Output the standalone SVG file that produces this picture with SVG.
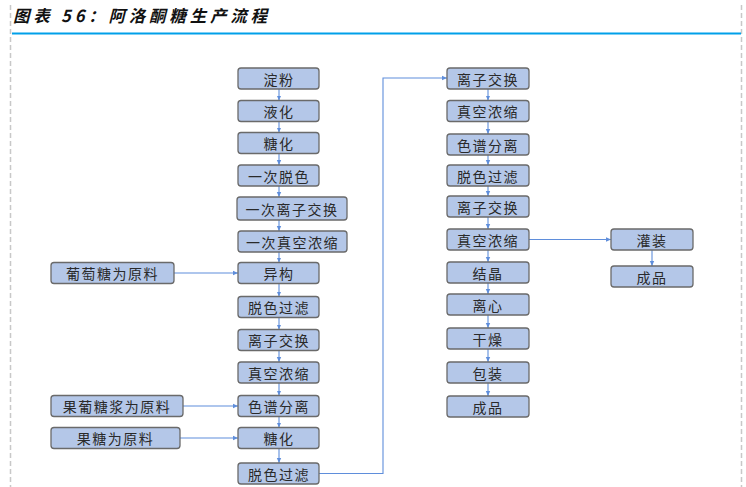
<svg xmlns="http://www.w3.org/2000/svg" width="746" height="487" viewBox="0 0 746 487">
<style>
.box{fill:#b4c7e8;stroke:#6a6a6a;stroke-width:1.3}
.lbl{font-family:"Noto Sans CJK SC","Noto Sans",sans-serif;font-size:14px;fill:#2a2a2a;text-anchor:middle;dominant-baseline:central;letter-spacing:1.5px}
.con{fill:none;stroke:#5f8edb;stroke-width:1.1}
.frame{stroke:#c8c8c8;stroke-width:1.5;stroke-dasharray:5 3}
</style>
<defs>
<marker id="arr" markerUnits="userSpaceOnUse" markerWidth="6" markerHeight="6" refX="5" refY="3" orient="auto">
<path d="M0,0.8 L5,3 L0,5.2 Z" fill="#5f8edb"/>
</marker>
</defs>
<g id="frame">
<line class="frame" x1="10.5" y1="5" x2="10.5" y2="487"/>
<line class="frame" x1="741.5" y1="5" x2="741.5" y2="487"/>
<text x="13" y="22" font-family="'Noto Sans CJK SC','Liberation Sans',sans-serif" font-size="16.5" font-weight="bold" font-style="italic" fill="#111" textLength="254" lengthAdjust="spacing">图表 56：阿洛酮糖生产流程</text>
<line x1="12" y1="33.5" x2="741" y2="33.5" stroke="#00a0e9" stroke-width="2"/>
</g>
<g id="connectors">
<line class="con" x1="279" y1="89" x2="279" y2="100.5" marker-end="url(#arr)"/>
<line class="con" x1="279" y1="121.5" x2="279" y2="132.5" marker-end="url(#arr)"/>
<line class="con" x1="279" y1="153.5" x2="279" y2="165" marker-end="url(#arr)"/>
<line class="con" x1="279" y1="186" x2="279" y2="197" marker-end="url(#arr)"/>
<line class="con" x1="279" y1="220" x2="279" y2="231" marker-end="url(#arr)"/>
<line class="con" x1="279" y1="252" x2="279" y2="262.5" marker-end="url(#arr)"/>
<line class="con" x1="279" y1="283.5" x2="279" y2="296.5" marker-end="url(#arr)"/>
<line class="con" x1="279" y1="317.5" x2="279" y2="329.5" marker-end="url(#arr)"/>
<line class="con" x1="279" y1="350.5" x2="279" y2="362" marker-end="url(#arr)"/>
<line class="con" x1="279" y1="383" x2="279" y2="395.5" marker-end="url(#arr)"/>
<line class="con" x1="279" y1="416.5" x2="279" y2="427.5" marker-end="url(#arr)"/>
<line class="con" x1="279" y1="448.5" x2="279" y2="463" marker-end="url(#arr)"/>
<line class="con" x1="174" y1="273" x2="238" y2="273" marker-end="url(#arr)"/>
<line class="con" x1="183" y1="406" x2="238" y2="406" marker-end="url(#arr)"/>
<line class="con" x1="180" y1="438" x2="238" y2="438" marker-end="url(#arr)"/>
<path class="con" d="M319,473.5 H383 V78 H447" marker-end="url(#arr)"/>
<line class="con" x1="488" y1="89" x2="488" y2="100.5" marker-end="url(#arr)"/>
<line class="con" x1="488" y1="121.5" x2="488" y2="134" marker-end="url(#arr)"/>
<line class="con" x1="488" y1="155" x2="488" y2="165" marker-end="url(#arr)"/>
<line class="con" x1="488" y1="186" x2="488" y2="196" marker-end="url(#arr)"/>
<line class="con" x1="488" y1="217" x2="488" y2="229" marker-end="url(#arr)"/>
<line class="con" x1="488" y1="250" x2="488" y2="262" marker-end="url(#arr)"/>
<line class="con" x1="488" y1="283" x2="488" y2="294" marker-end="url(#arr)"/>
<line class="con" x1="488" y1="315" x2="488" y2="328" marker-end="url(#arr)"/>
<line class="con" x1="488" y1="349" x2="488" y2="362" marker-end="url(#arr)"/>
<line class="con" x1="488" y1="383" x2="488" y2="396" marker-end="url(#arr)"/>
<line class="con" x1="529" y1="239.5" x2="611" y2="239.5" marker-end="url(#arr)"/>
<line class="con" x1="652" y1="250" x2="652" y2="266" marker-end="url(#arr)"/>
</g>
<g id="n1"><rect class="box" x="238" y="68" width="81" height="21" rx="3"/><text class="lbl" x="279" y="78.5">淀粉</text></g>
<g id="n2"><rect class="box" x="238" y="100.5" width="81" height="21" rx="3"/><text class="lbl" x="279" y="111">液化</text></g>
<g id="n3"><rect class="box" x="238" y="132.5" width="81" height="21" rx="3"/><text class="lbl" x="279" y="143">糖化</text></g>
<g id="n4"><rect class="box" x="238" y="165" width="81" height="21" rx="3"/><text class="lbl" x="279" y="175.5">一次脱色</text></g>
<g id="n5"><rect class="box" x="237" y="197" width="110" height="23" rx="3"/><text class="lbl" x="292" y="208.5">一次离子交换</text></g>
<g id="n6"><rect class="box" x="238" y="231" width="109" height="21" rx="3"/><text class="lbl" x="292.5" y="241.5">一次真空浓缩</text></g>
<g id="n7"><rect class="box" x="238" y="262.5" width="81" height="21" rx="3"/><text class="lbl" x="279" y="273">异构</text></g>
<g id="n8"><rect class="box" x="238" y="296.5" width="81" height="21" rx="3"/><text class="lbl" x="279" y="307">脱色过滤</text></g>
<g id="n9"><rect class="box" x="238" y="329.5" width="81" height="21" rx="3"/><text class="lbl" x="279" y="340">离子交换</text></g>
<g id="n10"><rect class="box" x="238" y="362" width="81" height="21" rx="3"/><text class="lbl" x="279" y="372.5">真空浓缩</text></g>
<g id="n11"><rect class="box" x="238" y="395.5" width="81" height="21" rx="3"/><text class="lbl" x="279" y="406">色谱分离</text></g>
<g id="n12"><rect class="box" x="238" y="427.5" width="81" height="21" rx="3"/><text class="lbl" x="279" y="438">糖化</text></g>
<g id="n13"><rect class="box" x="238" y="463" width="81" height="21" rx="3"/><text class="lbl" x="279" y="473.5">脱色过滤</text></g>
<g id="in1"><rect class="box" x="51" y="262.5" width="123" height="21" rx="3"/><text class="lbl" x="112.5" y="273">葡萄糖为原料</text></g>
<g id="in2"><rect class="box" x="51" y="395.5" width="132" height="21" rx="3"/><text class="lbl" x="117" y="406">果葡糖浆为原料</text></g>
<g id="in3"><rect class="box" x="51" y="427.5" width="129" height="21" rx="3"/><text class="lbl" x="115.5" y="438">果糖为原料</text></g>
<g id="r1"><rect class="box" x="447" y="68" width="82" height="21" rx="3"/><text class="lbl" x="488" y="78.5">离子交换</text></g>
<g id="r2"><rect class="box" x="447" y="100.5" width="82" height="21" rx="3"/><text class="lbl" x="488" y="111">真空浓缩</text></g>
<g id="r3"><rect class="box" x="447" y="134" width="82" height="21" rx="3"/><text class="lbl" x="488" y="144.5">色谱分离</text></g>
<g id="r4"><rect class="box" x="447" y="165" width="82" height="21" rx="3"/><text class="lbl" x="488" y="175.5">脱色过滤</text></g>
<g id="r5"><rect class="box" x="447" y="196" width="82" height="21" rx="3"/><text class="lbl" x="488" y="206.5">离子交换</text></g>
<g id="r6"><rect class="box" x="447" y="229" width="82" height="21" rx="3"/><text class="lbl" x="488" y="239.5">真空浓缩</text></g>
<g id="r7"><rect class="box" x="447" y="262" width="82" height="21" rx="3"/><text class="lbl" x="488" y="272.5">结晶</text></g>
<g id="r8"><rect class="box" x="447" y="294" width="82" height="21" rx="3"/><text class="lbl" x="488" y="304.5">离心</text></g>
<g id="r9"><rect class="box" x="447" y="328" width="82" height="21" rx="3"/><text class="lbl" x="488" y="338.5">干燥</text></g>
<g id="r10"><rect class="box" x="447" y="362" width="82" height="21" rx="3"/><text class="lbl" x="488" y="372.5">包装</text></g>
<g id="r11"><rect class="box" x="447" y="396" width="82" height="21" rx="3"/><text class="lbl" x="488" y="406.5">成品</text></g>
<g id="f1"><rect class="box" x="611" y="229" width="82" height="21" rx="3"/><text class="lbl" x="652" y="239.5">灌装</text></g>
<g id="f2"><rect class="box" x="611" y="266" width="82" height="21" rx="3"/><text class="lbl" x="652" y="276.5">成品</text></g>
</svg>
